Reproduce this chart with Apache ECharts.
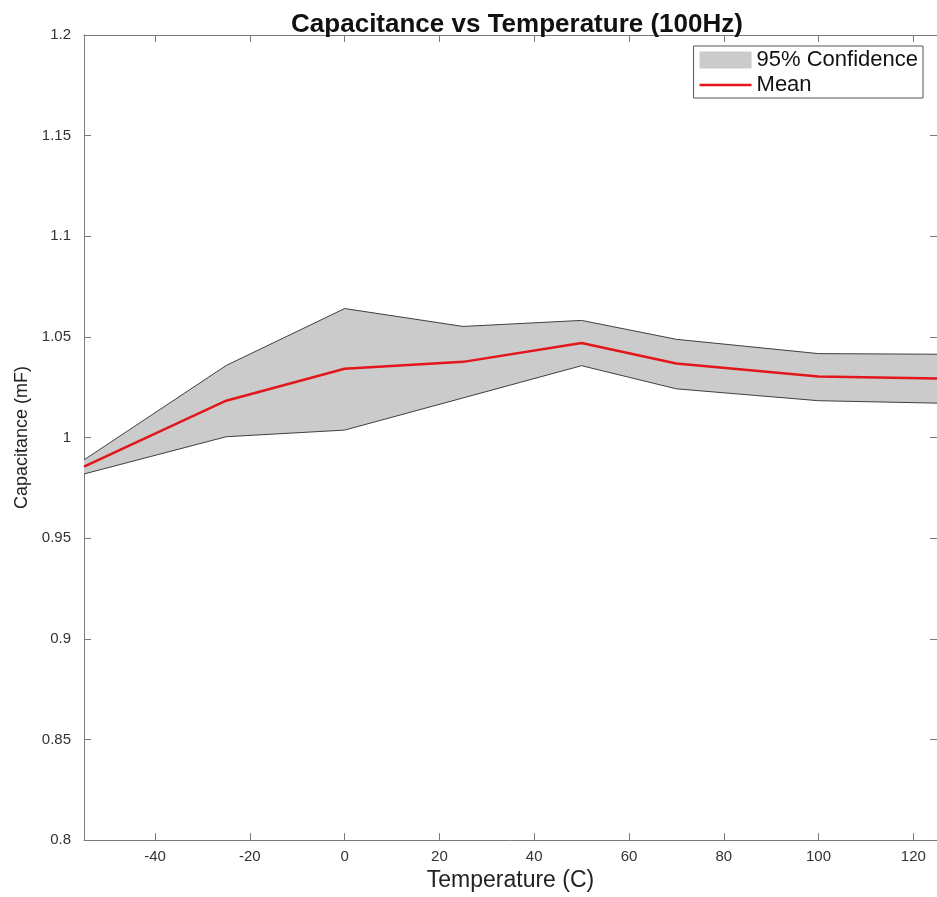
<!DOCTYPE html>
<html>
<head>
<meta charset="utf-8">
<script src="https://cdn.jsdelivr.net/npm/echarts@6/dist/echarts.min.js"></script>
<style>
  html, body { margin: 0; padding: 0; background: #fff; }
  #chart { width: 937px; height: 897px; }
</style>
</head>
<body>
<div id="chart"></div>
<script>
// 温度点
const temps = [-55, -25, 0, 25, 50, 70, 100, 125];
// 均值
const meanVals = [0.9855, 1.0183, 1.0342, 1.0376, 1.047, 1.0368, 1.0303, 1.0294];
// 95% 置信区间 上下界
const upperVals = [0.9889, 1.0358, 1.0641, 1.0552, 1.0582, 1.0488, 1.0417, 1.0414];
const lowerVals = [0.9819, 1.0004, 1.0037, 1.0197, 1.0357, 1.0242, 1.0183, 1.0171];
// 刻度
const xTicks = [-40, -20, 0, 20, 40, 60, 80, 100, 120];

const font = 'Liberation Sans, Arial, sans-serif';
const axisColor = '#7a7a7a';
const labelColor = '#333';
const bandColor = '#cbcbcb';

const dom = document.querySelector('#chart');
const myChart = echarts.init(dom);

function xAxisOpt(pos, show) {
  return {
    type: 'value',
    position: pos,
    min: -55,
    max: 125,
    axisLine: { show: true, onZero: false, lineStyle: { color: axisColor, width: 1 } },
    axisTick: { show: true, inside: true, length: 7, customValues: xTicks, lineStyle: { color: axisColor } },
    axisLabel: {
      show: show,
      color: labelColor,
      fontFamily: font,
      fontSize: 15,
      margin: 9,
      customValues: xTicks
    },
    splitLine: { show: false }
  };
}

function yAxisOpt(pos, show) {
  return {
    type: 'value',
    position: pos,
    min: 0.8,
    max: 1.2,
    interval: 0.05,
    axisLine: { show: true, onZero: false, lineStyle: { color: axisColor, width: 1 } },
    axisTick: { show: true, inside: true, length: 7, lineStyle: { color: axisColor } },
    axisLabel: {
      show: show,
      color: labelColor,
      fontFamily: font,
      fontSize: 15,
      margin: 13,
      formatter: v => String(Math.round(v * 100) / 100)
    },
    splitLine: { show: false }
  };
}

const xBottom = xAxisOpt('bottom', true);
xBottom.name = 'Temperature (C)';
xBottom.nameLocation = 'middle';
xBottom.nameGap = 27;
xBottom.nameTextStyle = { color: '#222', fontFamily: font, fontSize: 23 };
const xTop = xAxisOpt('top', false);

const yLeft = yAxisOpt('left', true);
yLeft.name = 'Capacitance (mF)';
yLeft.nameLocation = 'middle';
yLeft.nameGap = 52;
yLeft.nameTextStyle = { color: '#222', fontFamily: font, fontSize: 18 };
const yRight = yAxisOpt('right', false);

const option = {
  backgroundColor: '#fff',
  animation: false,
  title: {
    text: 'Capacitance vs Temperature (100Hz)',
    left: 512,
    textAlign: 'center',
    top: 7,
    textStyle: { fontFamily: font, fontSize: 26, fontWeight: 'bold', color: '#111' }
  },
  grid: { left: 84, right: -5, top: 35, bottom: 49 },
  legend: {
    right: 14,
    top: 46,
    orient: 'vertical',
    backgroundColor: '#fff',
    borderColor: '#555',
    borderWidth: 1,
    borderRadius: 0,
    padding: [3, 5, 2, 6],
    itemGap: 3,
    itemWidth: 52,
    itemHeight: 17,
    textStyle: { fontFamily: font, fontSize: 22, color: '#111' },
    data: [
      { name: '95% Confidence', icon: 'rect', itemStyle: { color: bandColor, borderWidth: 0 } },
      { name: 'Mean', icon: 'path://M0,0H52V2.5H0Z', itemStyle: { color: '#e3161c' } }
    ]
  },
  xAxis: [xBottom, xTop],
  yAxis: [yLeft, yRight],
  series: [
    {
      // 置信区间带
      name: '95% Confidence',
      type: 'custom',
      data: temps.map((t, i) => [t, lowerVals[i], upperVals[i]]),
      itemStyle: { color: bandColor },
      silent: true,
      renderItem: function (params, api) {
        if (params.dataIndex !== 0) return null;
        const top = temps.map((t, i) => api.coord([t, upperVals[i]]));
        const bottom = temps.map((t, i) => api.coord([t, lowerVals[i]])).reverse();
        return {
          type: 'polygon',
          shape: { points: top.concat(bottom) },
          style: { fill: bandColor, stroke: null }
        };
      },
      z: 1
    },
    {
      name: 'upperEdge',
      type: 'line',
      data: temps.map((t, i) => [t, upperVals[i]]),
      symbol: 'none',
      lineStyle: { color: '#3f3f3f', width: 1 },
      z: 3
    },
    {
      name: 'lowerEdge',
      type: 'line',
      data: temps.map((t, i) => [t, lowerVals[i]]),
      symbol: 'none',
      lineStyle: { color: '#3f3f3f', width: 1 },
      z: 3
    },
    {
      name: 'Mean',
      type: 'line',
      data: temps.map((t, i) => [t, meanVals[i]]),
      symbol: 'none',
      itemStyle: { color: '#e3161c' },
      lineStyle: { color: '#e3161c', width: 2.5 },
      z: 5
    }
  ]
};

myChart.setOption(option);
</script>
</body>
</html>
